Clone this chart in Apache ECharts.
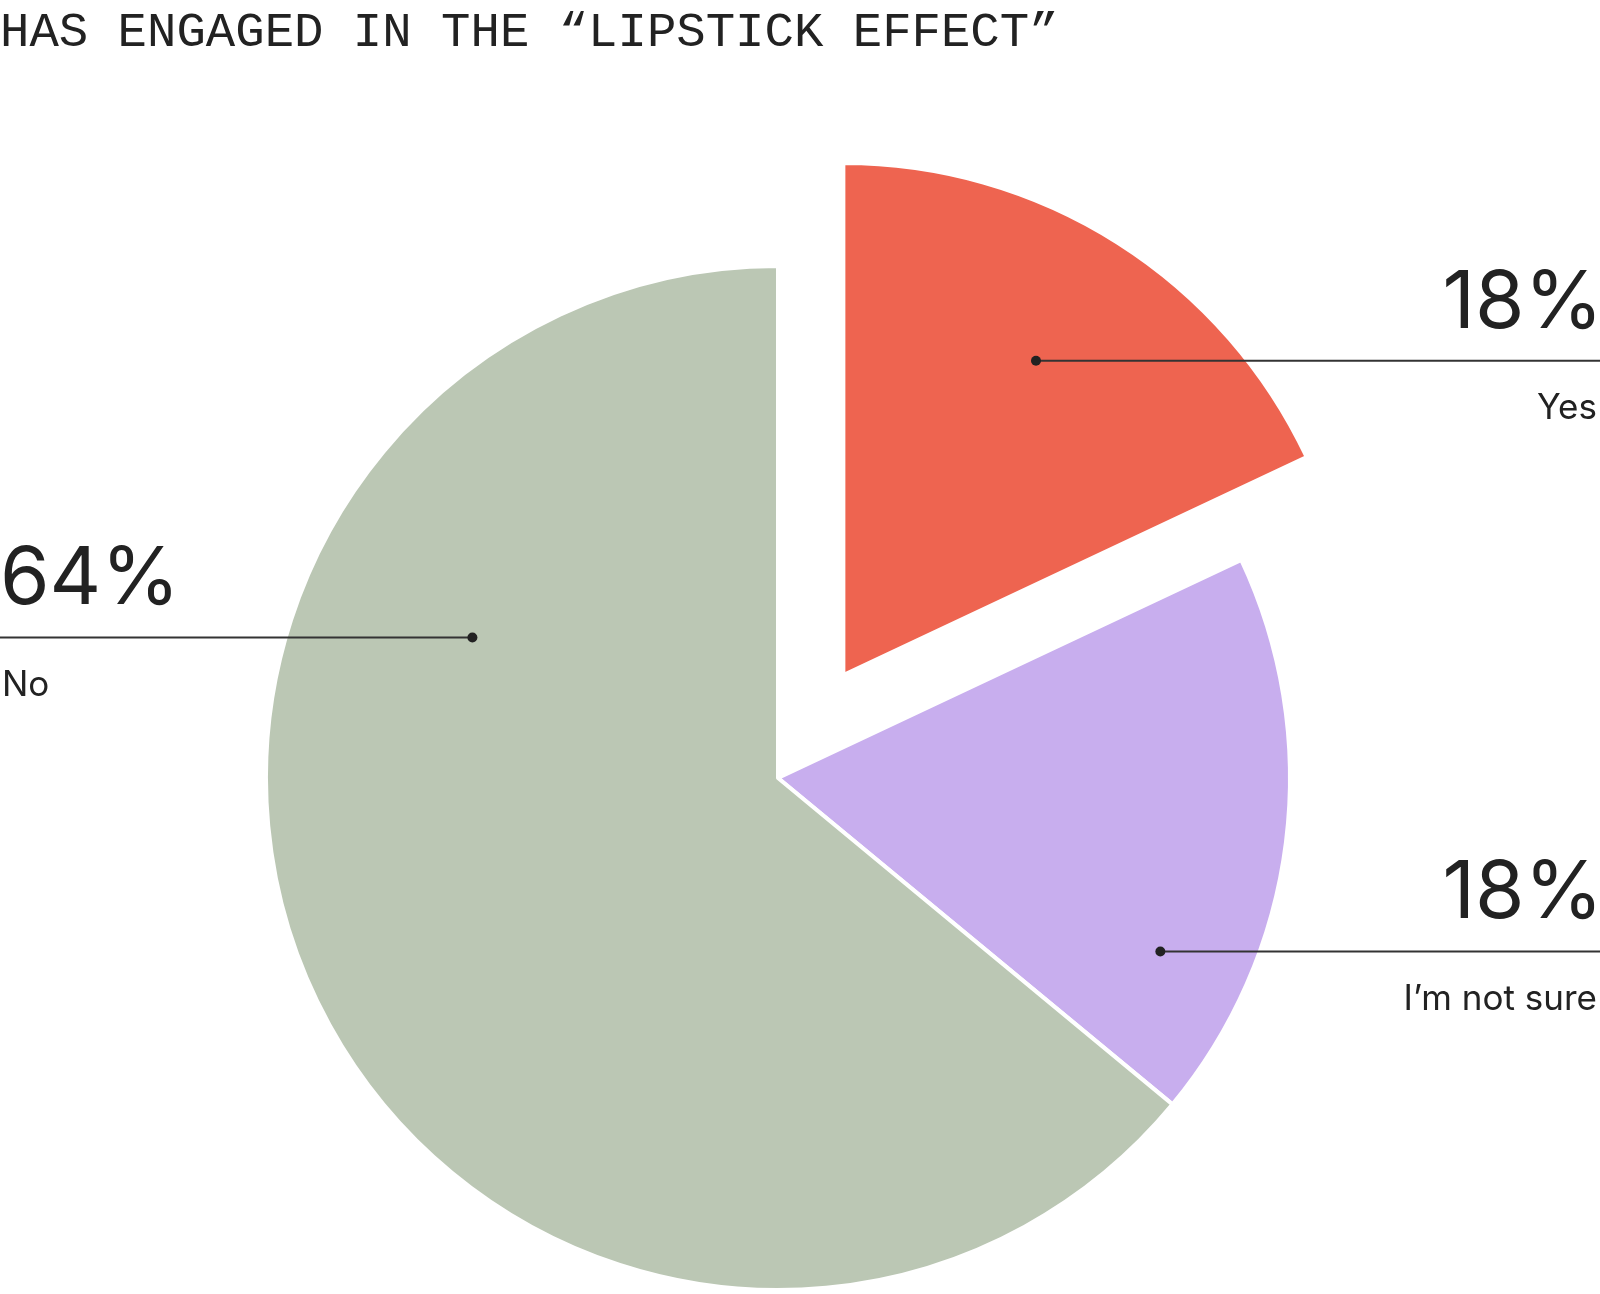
<!DOCTYPE html>
<html>
<head>
<meta charset="utf-8">
<script src="https://cdn.jsdelivr.net/npm/echarts@6/dist/echarts.min.js"></script>
<style>
  html, body { margin: 0; padding: 0; background: #fff; }
  #chart { width: 1600px; height: 1294px; }
</style>
</head>
<body>
<div id="chart"></div>
<script>
// data
const titleText = "HAS ENGAGED IN THE \u201CLIPSTICK EFFECT\u201D";
const categories = ["Yes", "I\u2019m not sure", "No"];
const shares = [18, 18, 64];

// styling / layout
const sliceColors = ["#EE6450", "#C8AEEE", "#BBC7B4"];
const explodedSlice = [true, false, false];
const anchorAngles = [31.5, 114.4, 294.7]; // degrees clockwise from 12 o'clock
const anchorRadii = [0.72, 0.82, 0.657];   // fraction of radius
const labelSides = ["right", "right", "left"];

const CX = 778, CY = 778, R = 512, EXPLODE = 122;
const W = 1600;
const INK = "#222";

// mid angle of each slice, so the exploded one can be followed
const total = shares.reduce((a, b) => a + b, 0);
let acc = 0;
const midAngles = shares.map(v => {
  const m = (acc + v / 2) / total * 360;
  acc += v;
  return m;
});

const rad = d => d * Math.PI / 180;
const anchors = shares.map((v, i) => {
  let cx = CX, cy = CY;
  if (explodedSlice[i]) {
    cx += EXPLODE * Math.sin(rad(midAngles[i]));
    cy -= EXPLODE * Math.cos(rad(midAngles[i]));
  }
  const r = R * anchorRadii[i];
  return [cx + r * Math.sin(rad(anchorAngles[i])), cy - r * Math.cos(rad(anchorAngles[i]))];
});

// callouts: dot, horizontal rule to the page edge, big share above, name below
const callouts = [];
anchors.forEach((p, i) => {
  const right = labelSides[i] === "right";
  const edge = right ? W : 0;
  const align = right ? "right" : "left";
  callouts.push({
    type: "line",
    shape: { x1: p[0], y1: p[1], x2: edge, y2: p[1] },
    style: { stroke: "#333", lineWidth: 2 },
    z: 100
  });
  callouts.push({
    type: "circle",
    shape: { cx: p[0], cy: p[1], r: 5 },
    style: { fill: INK },
    z: 101
  });
  callouts.push({
    type: "text",
    x: right ? W + 3 : 0, y: p[1] - 57,
    style: {
      text: shares[i] + "%",
      fontFamily: "Inter", fontSize: 80, fill: INK,
      align: align, verticalAlign: "middle"
    },
    z: 101
  });
  callouts.push({
    type: "text",
    x: right ? W - 3 : 2, y: p[1] + 48,
    style: {
      text: categories[i],
      fontFamily: "Inter", fontSize: 35, fill: INK,
      align: align, verticalAlign: "middle"
    },
    z: 101
  });
});

const chart = echarts.init(document.getElementById("chart"));
chart.setOption({
  animation: false,
  backgroundColor: "#fff",
  title: {
    text: titleText,
    left: 0,
    top: 9,
    padding: 0,
    textStyle: {
      fontFamily: "Liberation Mono",
      fontSize: 49,
      fontWeight: "normal",
      color: INK
    }
  },
  graphic: callouts,
  series: [{
    type: "pie",
    center: [CX, CY],
    radius: R,
    startAngle: 90,
    clockwise: true,
    selectedMode: "single",
    selectedOffset: EXPLODE,
    silent: true,
    itemStyle: { borderColor: "#fff", borderWidth: 4 },
    label: { show: false },
    labelLine: { show: false },
    data: categories.map((c, i) => ({
      name: c,
      value: shares[i],
      selected: explodedSlice[i],
      itemStyle: { color: sliceColors[i] }
    }))
  }]
});
</script>
</body>
</html>
